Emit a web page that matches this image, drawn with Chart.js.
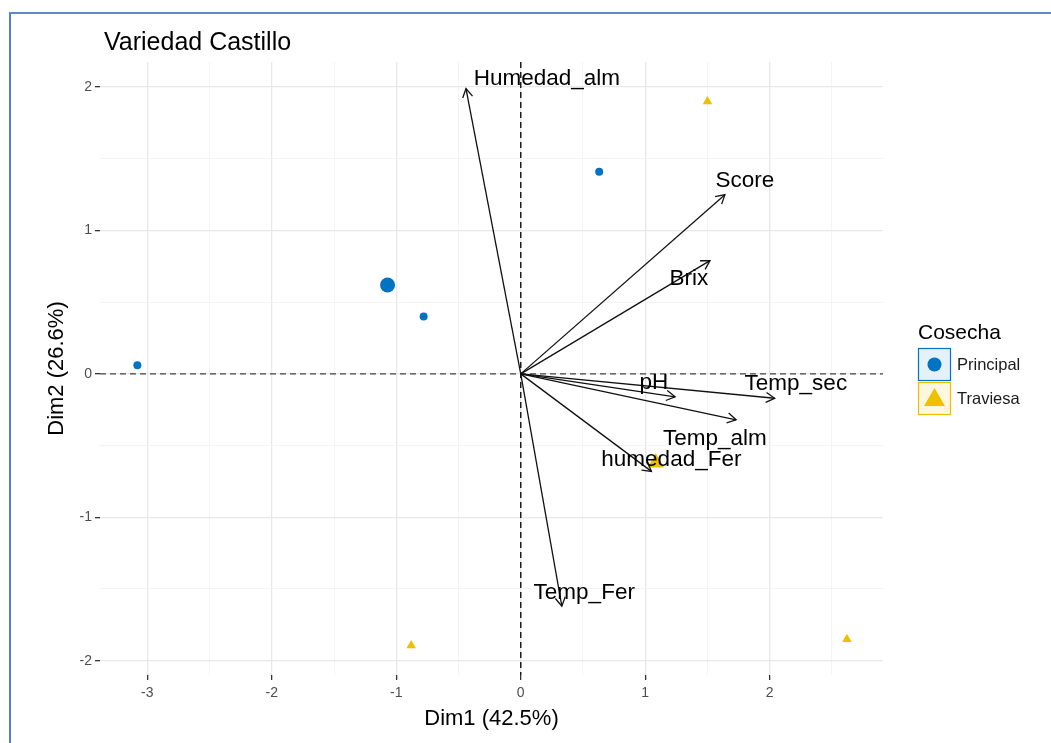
<!DOCTYPE html>
<html>
<head>
<meta charset="utf-8">
<script src="https://cdn.jsdelivr.net/npm/chart.js@4.4.1/dist/chart.umd.min.js"></script>
<style>
    body { margin: 0; background: #fff; overflow: hidden; }
    #marco { position: absolute; left: 9px; top: 12px; width: 1100px; height: 800px;
             border-left: 2px solid #4f81c4; border-top: 2px solid #5a8ccb; pointer-events: none; }
    canvas { position: absolute; left: 0; top: 0; }
</style>
</head>
<body>
<canvas id="biplot" width="1051" height="743"></canvas>
<div id="marco"></div>
<script>
"use strict";

// individuos (Cosecha Principal / Traviesa)
const principalX = [-3.08, -1.07, -0.78, 0.63];
const principalY = [0.06, 0.62, 0.40, 1.41];
const principalSize = [4, 7.5, 4, 4];

const traviesaX = [1.50, -0.88, 2.62, 1.085];
const traviesaY = [1.90, -1.895, -1.85, -0.62];
const traviesaSize = [5.5, 5.5, 5.5, 9.5];

// variables (flechas)
const variables = ["Humedad_alm", "Score", "Brix", "pH", "Temp_sec", "Temp_alm", "humedad_Fer", "Temp_Fer"];
const flechaX = [-0.44, 1.64, 1.52, 1.24, 2.04, 1.73, 1.05, 0.33];
const flechaY = [1.99, 1.25, 0.79, -0.16, -0.17, -0.32, -0.68, -1.62];
const etiquetaX = [0.21, 1.80, 1.35, 1.07, 2.21, 1.56, 1.21, 0.51];
const etiquetaY = [2.06, 1.35, 0.66, -0.06, -0.07, -0.45, -0.60, -1.53];

// ejes
const ticksX = [-3, -2.5, -2, -1.5, -1, -0.5, 0, 0.5, 1, 1.5, 2, 2.5];
const ticksY = [-2, -1.5, -1, -0.5, 0, 0.5, 1, 1.5, 2];

const azul = "#0073C2";
const amarillo = "#EFC000";
const fuente = "Arial, 'Liberation Sans', sans-serif";

const esEntero = (v) => Math.abs(v - Math.round(v)) < 1e-9;

const datasetsFlechas = variables.map((nombre, i) => ({
    type: "line",
    label: nombre,
    data: [{ x: 0, y: 0 }, { x: flechaX[i], y: flechaY[i] }],
    borderColor: "#111",
    borderWidth: 1.3,
    pointRadius: 0,
    order: 1,
}));

const extras = {
    id: "extras",
    beforeDatasetsDraw(chart) {
        const { ctx, chartArea, scales } = chart;
        const x0 = scales.x.getPixelForValue(0);
        const y0 = scales.y.getPixelForValue(0);
        ctx.save();
        ctx.setLineDash([6, 4]);
        ctx.lineWidth = 1.4;
        ctx.strokeStyle = "#444";
        ctx.beginPath();
        ctx.moveTo(chartArea.left, y0);
        ctx.lineTo(chartArea.right, y0);
        ctx.stroke();
        ctx.strokeStyle = "#111";
        ctx.beginPath();
        ctx.moveTo(x0, chartArea.top);
        ctx.lineTo(x0, chartArea.bottom);
        ctx.stroke();
        ctx.restore();
    },
    afterDatasetsDraw(chart) {
        const { ctx, scales } = chart;
        const x0 = scales.x.getPixelForValue(0);
        const y0 = scales.y.getPixelForValue(0);
        ctx.save();

        // puntas de flecha abiertas
        ctx.strokeStyle = "#111";
        ctx.lineWidth = 1.3;
        variables.forEach((nombre, i) => {
            const px = scales.x.getPixelForValue(flechaX[i]);
            const py = scales.y.getPixelForValue(flechaY[i]);
            const ang = Math.atan2(py - y0, px - x0);
            const largo = 10;
            ctx.beginPath();
            ctx.moveTo(px - largo * Math.cos(ang - Math.PI / 6), py - largo * Math.sin(ang - Math.PI / 6));
            ctx.lineTo(px, py);
            ctx.lineTo(px - largo * Math.cos(ang + Math.PI / 6), py - largo * Math.sin(ang + Math.PI / 6));
            ctx.stroke();
        });

        // nombres de variables
        ctx.fillStyle = "#000";
        ctx.font = `22.5px ${fuente}`;
        ctx.textAlign = "center";
        ctx.textBaseline = "middle";
        variables.forEach((nombre, i) => {
            ctx.fillText(nombre, scales.x.getPixelForValue(etiquetaX[i]), scales.y.getPixelForValue(etiquetaY[i]));
        });
        ctx.restore();
    },
    afterDraw(chart) {
        const { ctx } = chart;
        ctx.save();
        ctx.fillStyle = "#000";
        ctx.textAlign = "left";
        ctx.textBaseline = "alphabetic";
        ctx.font = `25px ${fuente}`;
        ctx.fillText("Variedad Castillo", 104, 50);

        // leyenda
        ctx.font = `21px ${fuente}`;
        ctx.fillText("Cosecha", 918, 339);

        ctx.lineWidth = 1.2;
        ctx.fillStyle = "rgba(0,115,194,0.10)";
        ctx.strokeStyle = azul;
        ctx.fillRect(918.5, 348.5, 32, 32);
        ctx.strokeRect(918.5, 348.5, 32, 32);
        ctx.fillStyle = azul;
        ctx.beginPath();
        ctx.arc(934.5, 364.5, 7, 0, Math.PI * 2);
        ctx.fill();

        ctx.fillStyle = "rgba(239,192,0,0.12)";
        ctx.strokeStyle = amarillo;
        ctx.fillRect(918.5, 382.5, 32, 32);
        ctx.strokeRect(918.5, 382.5, 32, 32);
        ctx.fillStyle = amarillo;
        ctx.beginPath();
        ctx.moveTo(934.5, 388);
        ctx.lineTo(945, 406);
        ctx.lineTo(924, 406);
        ctx.closePath();
        ctx.fill();

        ctx.fillStyle = "#1a1a1a";
        ctx.font = `16.5px ${fuente}`;
        ctx.textBaseline = "middle";
        ctx.fillText("Principal", 957, 365);
        ctx.fillText("Traviesa", 957, 399);
        ctx.restore();
    },
};

new Chart(document.querySelector("#biplot"), {
    type: "scatter",
    data: {
        datasets: [
            ...datasetsFlechas,
            {
                label: "Principal",
                data: principalX.map((x, i) => ({ x: x, y: principalY[i] })),
                backgroundColor: azul,
                borderColor: azul,
                pointRadius: principalSize,
                pointBorderWidth: 0,
                order: 2,
            },
            {
                label: "Traviesa",
                data: traviesaX.map((x, i) => ({ x: x, y: traviesaY[i] })),
                backgroundColor: amarillo,
                borderColor: amarillo,
                pointStyle: "triangle",
                pointRadius: traviesaSize,
                pointBorderWidth: 0,
                order: 2,
            },
        ],
    },
    options: {
        responsive: false,
        animation: false,
        devicePixelRatio: 1,
        layout: { padding: { left: 0, right: 168, top: 62, bottom: 0 } },
        plugins: {
            legend: { display: false },
            tooltip: { enabled: false },
        },
        scales: {
            x: {
                type: "linear",
                min: -3.38,
                max: 2.91,
                afterBuildTicks: (axis) => {
                    axis.ticks = ticksX.map((v) => ({ value: v }));
                },
                afterFit: (axis) => {
                    axis.height = 68;
                },
                border: { display: false },
                grid: {
                    color: (c) => (esEntero(c.tick.value) ? "#e8e8e8" : "#f3f3f3"),
                    lineWidth: (c) => (esEntero(c.tick.value) ? 1.3 : 0.9),
                    tickColor: (c) => (esEntero(c.tick.value) ? "#333" : "rgba(0,0,0,0)"),
                    tickLength: 5,
                },
                ticks: {
                    padding: 5,
                    color: "#4d4d4d",
                    font: { family: fuente, size: 14 },
                    callback: (v) => (esEntero(v) ? String(v) : ""),
                    maxRotation: 0,
                    autoSkip: false,
                },
                title: {
                    display: true,
                    text: "Dim1 (42.5%)",
                    color: "#000",
                    font: { family: fuente, size: 22 },
                    padding: { top: 0, bottom: 11 },
                },
            },
            y: {
                type: "linear",
                min: -2.1,
                max: 2.175,
                afterBuildTicks: (axis) => {
                    axis.ticks = ticksY.map((v) => ({ value: v }));
                },
                afterFit: (axis) => {
                    axis.width = 100;
                },
                border: { display: false },
                grid: {
                    color: (c) => (esEntero(c.tick.value) ? "#e8e8e8" : "#f3f3f3"),
                    lineWidth: (c) => (esEntero(c.tick.value) ? 1.3 : 0.9),
                    tickColor: (c) => (esEntero(c.tick.value) ? "#333" : "rgba(0,0,0,0)"),
                    tickLength: 5,
                },
                ticks: {
                    padding: 3,
                    color: "#4d4d4d",
                    font: { family: fuente, size: 14 },
                    callback: (v) => (esEntero(v) ? String(v) : ""),
                    autoSkip: false,
                },
                title: {
                    display: true,
                    text: "Dim2 (26.6%)",
                    color: "#000",
                    font: { family: fuente, size: 22 },
                    padding: { top: 44, bottom: 0 },
                },
            },
        },
    },
    plugins: [extras],
});
</script>
</body>
</html>
